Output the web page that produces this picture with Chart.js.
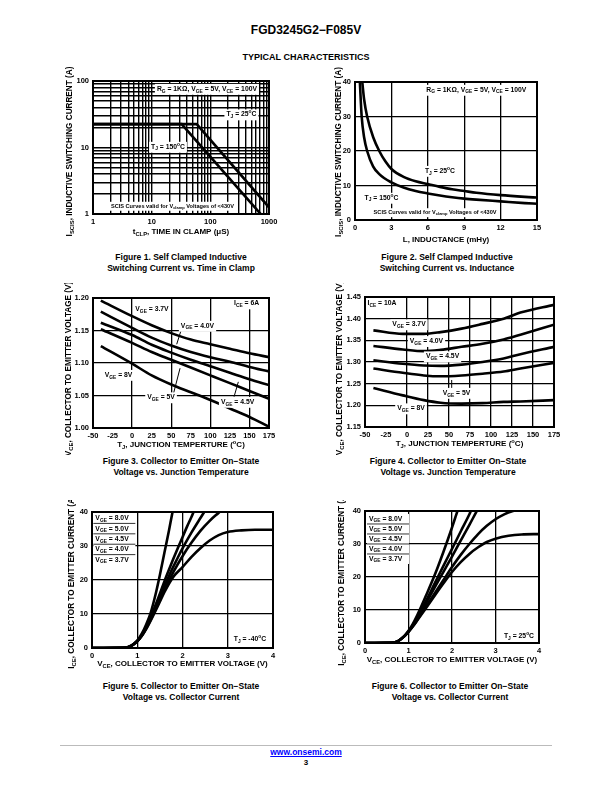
<!DOCTYPE html>
<html><head><meta charset="utf-8">
<script src="https://cdn.jsdelivr.net/npm/chart.js@4.4.1/dist/chart.umd.min.js"></script>
<style>
body{margin:0;width:612px;height:792px;background:#fff;position:relative;font-family:"Liberation Sans",Arial,sans-serif;overflow:hidden}
.t{position:absolute;left:0;width:612px;text-align:center;font-weight:bold;color:#000}
canvas{position:absolute}
.cap{position:absolute;width:250px;text-align:center;font-weight:bold;font-size:8.5px;line-height:11px;color:#000}
</style></head><body>
<div class="t" style="top:23px;font-size:12px;line-height:14px">FGD3245G2−F085V</div>
<div class="t" style="top:52px;font-size:9px;line-height:11px">TYPICAL CHARACTERISTICS</div>
<canvas id="c1"></canvas><canvas id="c2"></canvas><canvas id="c3"></canvas>
<canvas id="c4"></canvas><canvas id="c5"></canvas><canvas id="c6"></canvas>
<div class="cap" style="left:56px;top:251.5px">Figure 1. Self Clamped Inductive<br>Switching Current vs. Time in Clamp</div>
<div class="cap" style="left:322px;top:251.5px">Figure 2. Self Clamped Inductive<br>Switching Current vs. Inductance</div>
<div class="cap" style="left:56px;top:455.5px">Figure 3. Collector to Emitter On−State<br>Voltage vs. Junction Temperature</div>
<div class="cap" style="left:323px;top:455.5px">Figure 4. Collector to Emitter On−State<br>Voltage vs. Junction Temperature</div>
<div class="cap" style="left:56px;top:680.5px">Figure 5. Collector to Emitter On−State<br>Voltage vs. Collector Current</div>
<div class="cap" style="left:325px;top:680.5px">Figure 6. Collector to Emitter On−State<br>Voltage vs. Collector Current</div>
<div style="position:absolute;left:60px;top:745px;width:492px;height:1px;background:#bbb"></div>
<div class="t" style="top:747px;font-size:8.5px;line-height:10px;color:#00f;text-decoration:underline">www.onsemi.com</div>
<div class="t" style="top:758px;font-size:8px;line-height:10px">3</div>
<script>
// ---------------- DATA ----------------
// Figure 1: SCIS current vs time in clamp (log-log)
const fig1ClampTime25 = [1, 58.5, 1000];
const fig1Current25   = [22.5, 22.5, 1.26];
const fig1ClampTime150 = [1, 32.4, 1000];
const fig1Current150   = [22.5, 22.5, 0.72];
const fig1XLabels = ['1','10','100','1000'];
const fig1YLabels = ['1','10','100'];
const fig1XGrid = [1,2,3,4,5,6,7,8,9,10,20,30,40,50,60,70,80,90,100,200,300,400,500,600,700,800,900,1000];
const fig1YGrid = [1,2,3,4,5,6,7,8,9,10,20,30,40,50,60,70,80,90,100];

// Figure 2: SCIS current vs inductance
const fig2Inductance25 = [0.6,0.75,1,1.5,2,2.5,3,4,5,6,7,8,9,10,12,14,15];
const fig2Current25    = [40,35,30,24,20,17,14.8,12.5,11.2,10.4,9.6,8.9,8.4,7.9,7.2,6.7,6.5];
const fig2Inductance150 = [0.4,0.55,0.75,1,1.5,2,3,4,5,6,7,8,9,10,12,14,15];
const fig2Current150    = [40,30,24,20,15.5,13.3,10.9,9.4,8.4,7.7,7.1,6.6,6.2,5.9,5.4,4.9,4.7];
const fig2XLabels = ['0','3','6','9','12','15'];
const fig2YLabels = ['0','10','20','30','40'];

// Figure 3: VCE vs junction temperature, ICE = 6A
const fig3Temp = [-40,0,25,50,75,100,125,150,175];
const fig3Vge37 = [1.196,1.172,1.158,1.146,1.136,1.129,1.122,1.115,1.109];
const fig3Vge40 = [1.179,1.154,1.139,1.127,1.117,1.109,1.102,1.094,1.087];
const fig3Vge45 = [1.162,1.143,1.128,1.116,1.105,1.095,1.085,1.075,1.066];
const fig3Vge50 = [1.152,1.131,1.117,1.105,1.093,1.081,1.069,1.057,1.045];
const fig3Vge80 = [1.126,1.099,1.081,1.067,1.055,1.043,1.030,1.017,1.002];
const fig3XLabels = ['-50','-25','0','25','50','75','100','125','150','175'];
const fig3XGrid = [0,50,100,150];
const fig3YLabels = ['1.00','1.05','1.10','1.15','1.20'];

// Figure 4: VCE vs junction temperature, ICE = 10A
const fig4Temp = [-40,-5,20,40,65,90,115,135,175];
const fig4Vge37 = [1.373,1.365,1.365,1.369,1.377,1.388,1.400,1.414,1.432];
const fig4Vge40 = [1.337,1.329,1.325,1.328,1.335,1.342,1.352,1.363,1.386];
const fig4Vge45 = [1.304,1.296,1.292,1.291,1.294,1.300,1.308,1.318,1.335];
const fig4Vge50 = [1.285,1.275,1.269,1.267,1.269,1.273,1.278,1.285,1.298];
const fig4Vge80 = [1.240,1.223,1.212,1.206,1.204,1.205,1.208,1.209,1.212];
const fig4XLabels = ['-50','-25','0','25','50','75','100','125','150','175'];
const fig4XGrid = [0,25,50,75,100,125,150];
const fig4YLabels = ['1.15','1.20','1.25','1.30','1.35','1.40','1.45'];

// Figure 5: ICE vs VCE, TJ = -40C
const fig5Vce37 = [0,0.7,0.85,1.0,1.1,1.2,1.3,1.4,1.5,1.6,1.7,1.8,2.0,2.2,2.4,2.6,2.8,3.0,3.3,3.6,4.0];
const fig5Ice37 = [0,0.05,0.5,2,3.5,5.6,8.1,10.8,13.6,16.4,18.9,21,23.8,26.8,29.4,31.6,33.2,34.1,34.6,34.8,34.8];
const fig5Vce40 = [0,0.7,0.85,1.0,1.1,1.2,1.3,1.4,1.5,1.6,1.7,1.8,2.0,2.2,2.4,2.6,2.8,2.9];
const fig5Ice40 = [0,0.05,0.5,2,3.6,5.8,8.4,11.2,14.1,17,19.8,22.4,27,31,34.5,37.4,39.8,41];
const fig5Vce45 = [0,0.7,0.85,1.0,1.1,1.2,1.3,1.4,1.5,1.6,1.7,1.8,1.9,2.0,2.2,2.4,2.5];
const fig5Ice45 = [0,0.05,0.5,2,3.7,6,8.8,11.8,15,18.2,21.2,24,26.7,29.3,34,38.3,40.4];
const fig5Vce50 = [0,0.7,0.85,1.0,1.1,1.2,1.3,1.4,1.5,1.6,1.7,1.8,1.9,2.0,2.1,2.2,2.25];
const fig5Ice50 = [0,0.05,0.5,2,3.8,6.2,9.2,12.5,16,19.6,23,26.3,29.5,32.6,35.7,38.6,40.2];
const fig5Vce80 = [0,0.7,0.85,1.0,1.1,1.2,1.3,1.4,1.5,1.6,1.7,1.78,1.82];
const fig5Ice80 = [0,0.05,0.6,2.2,4.2,7,10.5,15.5,21.5,28,34.5,40,42.5];
const fig5XLabels = ['0','1','2','3','4'];
const fig5YLabels = ['0','10','20','30','40'];

// Figure 6: ICE vs VCE, TJ = 25C
const fig6Vce37 = [0,0.6,0.75,0.9,1.0,1.1,1.2,1.4,1.6,1.8,2.0,2.2,2.4,2.6,2.8,3.0,3.3,3.6,4.0];
const fig6Ice37 = [0,0.05,0.5,2,3.4,5,6.8,10.5,14.3,18,21.5,24.5,27,29,30.6,31.6,32.5,32.9,33];
const fig6Vce40 = [0,0.6,0.75,0.9,1.0,1.1,1.2,1.4,1.6,1.8,2.0,2.2,2.4,2.6,2.8,3.0,3.2,3.4,3.6];
const fig6Ice40 = [0,0.05,0.5,2,3.4,5.1,7,11,15,19,23,26.7,30,33,35.5,37.5,39,40,40.6];
const fig6Vce45 = [0,0.6,0.75,0.9,1.0,1.1,1.2,1.4,1.6,1.8,2.0,2.2,2.4,2.55,2.6];
const fig6Ice45 = [0,0.05,0.5,2,3.5,5.3,7.4,12,16.8,21.5,26.2,31,35.8,39.5,40.7];
const fig6Vce50 = [0,0.6,0.75,0.9,1.0,1.1,1.2,1.4,1.6,1.8,2.0,2.2,2.4,2.45];
const fig6Ice50 = [0,0.05,0.5,2,3.5,5.4,7.7,12.7,18,23.3,28.5,33.8,39,40.5];
const fig6Vce80 = [0,0.6,0.75,0.9,1.0,1.1,1.2,1.4,1.6,1.8,2.0,2.1,2.15];
const fig6Ice80 = [0,0.05,0.5,2.1,3.7,5.8,8.4,14.3,20.5,27.5,35,39,41];
const fig6XLabels = ['0','1','2','3','4'];
const fig6YLabels = ['0','10','20','30','40'];

const vgeLegend = ['V_{GE} = 8.0V','V_{GE} = 5.0V','V_{GE} = 4.5V','V_{GE} = 4.0V','V_{GE} = 3.7V'];

// ---------------- RENDERING ----------------
const FONT = '"Liberation Sans", Arial, sans-serif';

function richParts(str){
  const re=/_\{([^}]*)\}|\^\{([^}]*)\}|([^_^]+)/g; let m; const parts=[];
  while((m=re.exec(str))){
    if(m[1]!==undefined) parts.push({t:m[1],k:'sub'});
    else if(m[2]!==undefined) parts.push({t:m[2],k:'sup'});
    else parts.push({t:m[3],k:'n'});
  }
  return parts;
}
function richWidth(ctx,parts,size){
  let w=0;
  for(const p of parts){ ctx.font=`bold ${p.k==='n'?size:size*0.72}px ${FONT}`; w+=ctx.measureText(p.t).width; }
  return w;
}
function drawRich(ctx,str,x,y,size,align){
  const parts=richParts(str); const w=richWidth(ctx,parts,size);
  let sx = align==='center'? x-w/2 : (align==='right'? x-w : x);
  ctx.textBaseline='middle'; ctx.textAlign='left'; ctx.fillStyle='#000';
  for(const p of parts){
    const s = p.k==='n'?size:size*0.72;
    ctx.font=`bold ${s}px ${FONT}`;
    const dy = p.k==='sub'? size*0.32 : (p.k==='sup'? -size*0.38 : 0);
    ctx.fillText(p.t, sx, y+dy);
    sx += ctx.measureText(p.t).width;
  }
  return w;
}

const notesPlugin = {
  id:'notes',
  afterDatasetsDraw(chart){
    const cfg = chart.config.options.plugins.notes;
    const ctx = chart.ctx, a = chart.chartArea, xs = chart.scales.x, ys = chart.scales.y;
    ctx.save();
    for(const l of (cfg.leaders||[])){
      ctx.strokeStyle='#000'; ctx.lineWidth=1;
      ctx.beginPath();
      ctx.moveTo(xs.getPixelForValue(l[0]), ys.getPixelForValue(l[1]));
      ctx.lineTo(xs.getPixelForValue(l[2]), ys.getPixelForValue(l[3]));
      ctx.stroke();
    }
    for(const n of (cfg.items||[])){
      const size = n.size || 6.8;
      const px = xs.getPixelForValue(n.x), py = ys.getPixelForValue(n.y);
      const w = richWidth(ctx, richParts(n.t), size);
      ctx.fillStyle='#fff';
      ctx.fillRect(px-w/2-2, py-size*0.75, w+4, size*1.6);
      drawRich(ctx, n.t, px, py, size, 'center');
    }
    if(cfg.block){
      const b=cfg.block; const px=xs.getPixelForValue(b.x), py=ys.getPixelForValue(b.y);
      ctx.fillStyle='#fff'; ctx.fillRect(px, py, b.w, b.rowH*b.rows.length);
      b.rows.forEach((r,i)=>{
        drawRich(ctx, r, px+2, py+b.rowH*(i+0.5), 6.8, 'left');
        if(i>0){ ctx.strokeStyle='#000'; ctx.lineWidth=0.8; ctx.beginPath(); ctx.moveTo(px,py+b.rowH*i); ctx.lineTo(px+b.w,py+b.rowH*i); ctx.stroke(); }
      });
    }
    ctx.strokeStyle='#000'; ctx.lineWidth=2;
    ctx.strokeRect(a.left, a.top, a.right-a.left, a.bottom-a.top);
    drawRich(ctx, cfg.xTitle, (a.left+a.right)/2 + (cfg.xTitleShift||0), a.bottom+cfg.xTitleOff, 8, 'center');
    ctx.save();
    ctx.translate(a.left-cfg.yTitleOff, (a.top+a.bottom)/2 + (cfg.yTitleShift||0));
    ctx.rotate(-Math.PI/2);
    drawRich(ctx, cfg.yTitle, 0, 0, 8.2, 'center');
    ctx.restore();
    ctx.restore();
  }
};

function pts(xs, ys){ return xs.map((x,i)=>({x, y:ys[i]})); }

function makeChart(cfg){
  const cv=document.getElementById(cfg.id);
  const [cx,cy,cw,ch]=cfg.frame; const [L,T,R,B]=cfg.plot;
  cv.style.left=cx+'px'; cv.style.top=cy+'px';
  cv.width=cw; cv.height=ch; cv.style.width=cw+'px'; cv.style.height=ch+'px';
  const axis=(ax,isX)=>{
    const labelMap=new Map(ax.labels.map(s=>[Number(s),s]));
    const gridSet=new Set(ax.grid || ax.labels.map(Number));
    const values=[...new Set([...ax.labels.map(Number), ...(ax.grid||[])])].sort((p,q)=>p-q);
    return {
      type:ax.type||'linear', min:ax.min, max:ax.max,
      afterBuildTicks(s){ s.ticks=values.map(v=>({value:v})); },
      afterFit(s){ if(isX) s.height=cy+ch-B; else s.width=L-cx; },
      grid:{drawTicks:false, lineWidth:ax.gridW||1.3,
        color:c=>(c.tick && gridSet.has(c.tick.value))?'#000':'rgba(0,0,0,0)'},
      border:{display:false},
      ticks:{autoSkip:false, maxRotation:0, minRotation:0, padding:isX?3:4, color:'#000',
        font:{family:FONT, weight:'bold', size:7.5},
        callback:(v)=>labelMap.has(v)?labelMap.get(v):''}
    };
  };
  return new Chart(cv, {
    type:'line',
    data:{datasets:cfg.series.map(s=>({data:pts(s[0],s[1]), borderColor:'#000', borderWidth:2.6,
      pointRadius:0, fill:false, clip:0,
      tension: cfg.straight?0:0.4, cubicInterpolationMode: cfg.straight?'default':'monotone'}))},
    options:{
      responsive:false, animation:false, devicePixelRatio:1,
      layout:{padding:{left:0, top:T-cy, right:cx+cw-R, bottom:0}},
      plugins:{legend:{display:false}, tooltip:{enabled:false}, notes:cfg.notes},
      scales:{x:axis(cfg.x,true), y:axis(cfg.y,false)}
    },
    plugins:[notesPlugin]
  });
}

const vTitle = 'V_{CE}, COLLECTOR TO EMITTER VOLTAGE (V)';
const iTitle = 'I_{SCIS}, INDUCTIVE SWITCHING CURRENT (A)';
const ceTitle = 'I_{CE}, COLLECTOR TO EMITTER CURRENT (A)';
const rgNote = 'R_{G} = 1KΩ, V_{GE} = 5V, V_{CE} = 100V';
const scisNote = 'SCIS Curves valid for V_{clamp} Voltages of <430V';

makeChart({id:'c1', frame:[55,65,230,185], plot:[93,81,269,214], straight:true,
  x:{type:'logarithmic', min:1, max:1000, labels:fig1XLabels, grid:fig1XGrid, gridW:1.4},
  y:{type:'logarithmic', min:1, max:100, labels:fig1YLabels, grid:fig1YGrid, gridW:1.4},
  series:[[fig1ClampTime25,fig1Current25],[fig1ClampTime150,fig1Current150]],
  notes:{xTitle:'t_{CLP}, TIME IN CLAMP (μS)', xTitleOff:18, yTitle:iTitle, yTitleOff:23, yTitleShift:4,
    items:[{t:rgNote,x:87.5,y:75.8},{t:'T_{J} = 25^{o}C',x:339,y:31.3},{t:'T_{J} = 150^{o}C',x:19,y:10.2},
      {t:scisNote,x:22.6,y:1.32,size:5.6}]}});

makeChart({id:'c2', frame:[320,65,250,185], plot:[355,82,537,220],
  x:{min:0,max:15,labels:fig2XLabels}, y:{min:0,max:40,labels:fig2YLabels},
  series:[[fig2Inductance25,fig2Current25],[fig2Inductance150,fig2Current150]],
  notes:{xTitle:'L, INDUCTANCE (mHy)', xTitleOff:20, yTitle:iTitle, yTitleOff:16, yTitleShift:1,
    items:[{t:rgNote,x:10.0,y:37.7},{t:'T_{J} = 25^{o}C',x:7.0,y:14.2},{t:'T_{J} = 150^{o}C',x:2.18,y:6.4},
      {t:scisNote,x:6.6,y:2.2,size:5.6}]}});

makeChart({id:'c3', frame:[55,283,230,172], plot:[93,298,269,428],
  x:{min:-50,max:175,labels:fig3XLabels,grid:fig3XGrid}, y:{min:1.0,max:1.2,labels:fig3YLabels},
  series:[[fig3Temp,fig3Vge37],[fig3Temp,fig3Vge40],[fig3Temp,fig3Vge45],[fig3Temp,fig3Vge50],[fig3Temp,fig3Vge80]],
  notes:{xTitle:'T_{J}, JUNCTION TEMPERTURE (^{o}C)', xTitleOff:17, yTitle:vTitle, yTitleOff:24, yTitleShift:6,
    leaders:[[63.4,1.1534,57,1.1288],[52.7,1.052,61.3,1.092],[130.3,1.048,135.8,1.071]],
    items:[{t:'I_{CE} = 6A',x:146.3,y:1.1915},{t:'V_{GE} = 3.7V',x:25.4,y:1.183},{t:'V_{GE} = 4.0V',x:83.6,y:1.157},
      {t:'V_{GE} = 8V',x:-17.4,y:1.0815},{t:'V_{GE} = 5V',x:37,y:1.047},{t:'V_{GE} = 4.5V',x:134.8,y:1.04}]}});

makeChart({id:'c4', frame:[320,283,255,172], plot:[365,297,554,427],
  x:{min:-50,max:175,labels:fig4XLabels,grid:fig4XGrid}, y:{min:1.15,max:1.45,labels:fig4YLabels},
  series:[[fig4Temp,fig4Vge37],[fig4Temp,fig4Vge40],[fig4Temp,fig4Vge45],[fig4Temp,fig4Vge50],[fig4Temp,fig4Vge80]],
  notes:{xTitle:'T_{J}, JUNCTION TEMPERTURE (^{o}C)', xTitleOff:17, yTitle:vTitle, yTitleOff:25, yTitleShift:6,
    leaders:[[53.2,1.2377,53.2,1.2585]],
    items:[{t:'I_{CE} = 10A',x:-29.8,y:1.435},{t:'V_{GE} = 3.7V',x:2.4,y:1.3866},{t:'V_{GE} = 4.0V',x:23.2,y:1.348},
      {t:'V_{GE} = 4.5V',x:42.3,y:1.3127},{t:'V_{GE} = 5V',x:58.9,y:1.2285},{t:'V_{GE} = 8V',x:4.8,y:1.1927}]}});

makeChart({id:'c5', frame:[55,500,230,175], plot:[92,512,273,648],
  x:{min:0,max:4,labels:fig5XLabels}, y:{min:0,max:40,labels:fig5YLabels},
  series:[[fig5Vce80,fig5Ice80],[fig5Vce50,fig5Ice50],[fig5Vce45,fig5Ice45],[fig5Vce40,fig5Ice40],[fig5Vce37,fig5Ice37]],
  notes:{xTitle:'V_{CE}, COLLECTOR TO EMITTER VOLTAGE (V)', xTitleOff:16, yTitle:ceTitle, yTitleOff:20, yTitleShift:2,
    block:{rows:vgeLegend, x:0.03, y:39.7, rowH:10.4, w:42},
    items:[{t:'T_{J} = -40^{o}C',x:3.49,y:2.65}]}});

makeChart({id:'c6', frame:[320,500,250,175], plot:[365,511,539,643],
  x:{min:0,max:4,labels:fig6XLabels}, y:{min:0,max:40,labels:fig6YLabels},
  series:[[fig6Vce80,fig6Ice80],[fig6Vce50,fig6Ice50],[fig6Vce45,fig6Ice45],[fig6Vce40,fig6Ice40],[fig6Vce37,fig6Ice37]],
  notes:{xTitle:'V_{CE}, COLLECTOR TO EMITTER VOLTAGE (V)', xTitleOff:17, yTitle:ceTitle, yTitleOff:23, yTitleShift:2,
    block:{rows:vgeLegend, x:0.046, y:39.1, rowH:10, w:42},
    items:[{t:'T_{J} = 25^{o}C',x:3.54,y:2.1}]}});
</script>
</body></html>
